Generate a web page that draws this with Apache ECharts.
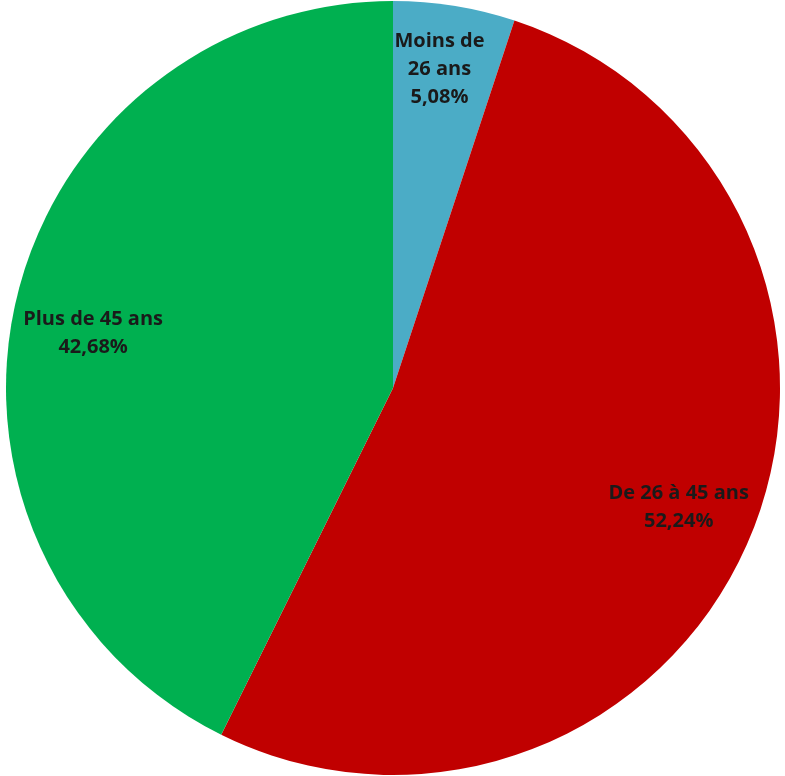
<!DOCTYPE html>
<html><head><meta charset="utf-8">
<script src="https://cdn.jsdelivr.net/npm/echarts@6/dist/echarts.min.js"></script>
<style>html,body{margin:0;padding:0;background:#fff}#c{width:785px;height:776px}</style>
</head><body><div id="c"></div>
<script>
const categories = ['Moins de\n26 ans', 'De 26 à 45 ans', 'Plus de 45 ans'];
const values = [5.08, 52.24, 42.68];
const colors = ['#4bacc6', '#c00000', '#00b050'];
const labelRadius = [321, 295, 305];
const labelPadding = [[0, 10, 0, 0], [0, 0, 0, 20], [0, 0, 0, 0]];
const labelDrop = [2, 12, 32];

const chart = echarts.init(document.getElementById('c'));
const center = [393, 388];
const R = 387;
const series = [{
  type: 'pie', center: center, radius: [0, R], startAngle: 90, clockwise: true,
  label: { show: false }, labelLine: { show: false }, silent: true,
  itemStyle: { borderWidth: 0 },
  data: categories.map((n, i) => ({ name: n, value: values[i], itemStyle: { color: colors[i] } }))
}];
categories.forEach((cat, k) => {
  series.push({
    type: 'pie', center: center, radius: [2 * labelRadius[k] - R, R], startAngle: 90, clockwise: true,
    silent: true, labelLine: { show: false },
    itemStyle: { color: 'rgba(0,0,0,0)', borderWidth: 0 },
    label: {
      show: true, position: 'inside', color: '#1a1a1a', fontWeight: 'bold',
      fontFamily: 'Open Sans', fontSize: 20, lineHeight: 28, align: 'center',
      padding: labelPadding[k],
      rich: { sp: { height: labelDrop[k], lineHeight: labelDrop[k], fontSize: 1 } },
      formatter: p => '{sp|}\n' + p.name + '\n' + p.value.toFixed(2).replace('.', ',') + '%'
    },
    data: categories.map((n, i) => ({ name: n, value: values[i], label: { show: i === k } }))
  });
});
chart.setOption({ animation: false, series: series });
</script></body></html>
